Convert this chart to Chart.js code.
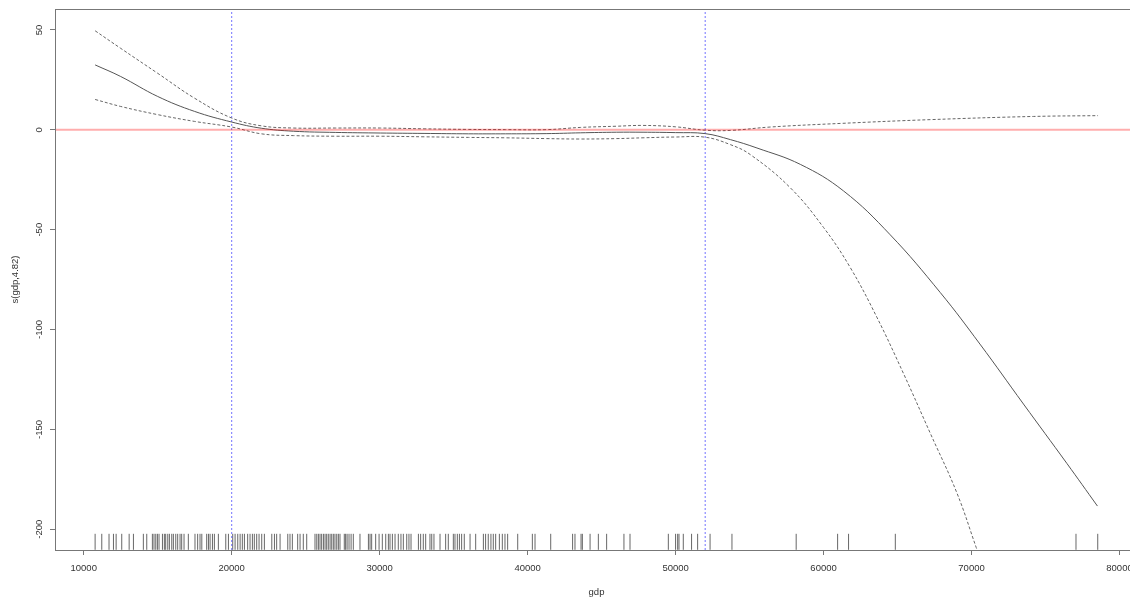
<!DOCTYPE html>
<html>
<head>
<meta charset="utf-8">
<script src="https://cdn.jsdelivr.net/npm/chart.js@4/dist/chart.umd.min.js"></script>
<style>
  html, body { margin: 0; padding: 0; background: #fff; overflow: hidden; }
  #wrap { width: 1150px; height: 599px; }
</style>
</head>
<body>
<div id="wrap"><canvas id="c" width="1150" height="599"></canvas></div>
<script>
// ---- data ----
const X_TICKS = [10000, 20000, 30000, 40000, 50000, 60000, 70000, 80000];
const Y_TICKS = [-200, -150, -100, -50, 0, 50];
const X_MIN = 8059, X_MAX = 81251;
const Y_MIN = -210.4, Y_MAX = 60.5;

const MAIN_GDP = [10770, 12500, 15000, 17500, 20000, 22000, 24170, 27000, 30050, 33000, 36000, 38500, 41300, 43560, 46000, 47800, 50000, 52000, 53700, 55500, 58430, 61350, 64510, 67890, 70570, 73510, 76440, 78510];
const MAIN_VAL = [32.5, 26.7, 16.7, 9.2, 3.9, 0.8, -0.7, -1.3, -1.6, -1.8, -2.0, -2.0, -1.9, -1.5, -1.2, -1.2, -1.4, -1.9, -4.9, -9.1, -17.3, -30.6, -52.6, -81.5, -107.3, -137.3, -167.0, -188.4];

const UPPER_GDP = [10770, 12500, 15000, 17500, 20000, 22000, 24170, 27000, 30050, 33000, 36000, 38500, 41300, 43560, 46000, 47800, 50000, 52000, 53700, 56400, 61130, 67210, 74200, 78550];
const UPPER_VAL = [49.6, 40.8, 28.3, 15.8, 5.9, 2.0, 0.9, 0.9, 0.9, 0.5, 0.2, 0.1, 0.1, 1.2, 1.8, 2.2, 1.5, -0.2, -0.3, 1.4, 3.2, 5.1, 6.7, 7.1];

const LOWER_GDP = [10770, 12500, 15000, 17500, 20000, 22000, 24170, 27000, 30050, 33000, 36000, 38500, 41300, 43560, 46000, 47800, 50000, 52000, 53700, 55050, 57750, 60000, 61800, 63600, 65400, 67210, 69010, 70320, 70600];
const LOWER_VAL = [15.2, 11.7, 7.6, 4.2, 1.4, -2.0, -2.9, -3.2, -3.2, -3.5, -3.8, -4.0, -4.4, -4.6, -4.4, -4.0, -3.6, -3.7, -7.4, -12.4, -29, -48.9, -68.9, -93.8, -122, -151.9, -181.8, -209.2, -215];

const V_LINES = [20000, 52000];
const H_LINE = 0;
const RUG_Y = -206.3;

const RUG_GDP = [10770, 11220, 11710, 12010, 12190, 12570, 13070, 13360, 14030, 14260, 14640, 14750, 14870, 14980, 15090, 15320, 15450, 15540, 15680, 15790, 15950, 16060, 16220, 16350, 16510, 16620, 16780, 17070, 17520, 17700, 17860, 17980, 18310, 18430, 18540, 18700, 18830, 19100, 19600, 19780, 20070, 20230, 20410, 20570, 20720,
  20860, 21080, 21240, 21400, 21530, 21690, 21850, 22030, 22210, 22710, 22890, 23040, 23270, 23790, 23940, 24100, 24460, 24620, 24840, 25070, 25630, 25750, 25860, 25970, 26080, 26200, 26310, 26420, 26530, 26650, 26760, 26870, 26980, 27100, 27210, 27320, 27610, 27700, 27800, 27930, 28070, 28220, 28670, 29240, 29350, 29460, 29730, 29960, 30180, 30410, 30590,
  30700, 30860, 31040, 31260, 31440, 31600, 31830, 31980, 32120, 32620, 32770, 32950, 33110, 33400, 33520, 33670, 34080, 34460, 34640, 34980, 35090, 35250, 35390, 35540, 35720, 36110, 36490, 37010, 37160, 37340, 37520, 37680, 37840, 38090, 38290, 38470, 38650, 39330, 40320, 40500,
  41560, 43040, 43200, 43610, 43700, 44220, 44780, 45340, 46510, 46920, 49510, 50000, 50140, 50230, 50520, 51080, 51490, 52330, 53810, 58150, 60950, 61690, 64850, 77060, 78530];

// ---- helpers ----
const pts = (xs, ys) => xs.map((x, i) => ({ x: x, y: ys[i] }));
const FONT = '"Liberation Sans", Arial, sans-serif';

const datasets = [
  { label: 'h0', data: [{ x: X_MIN, y: H_LINE }, { x: X_MAX, y: H_LINE }], showLine: true, borderColor: 'rgba(255,0,0,0.32)', borderWidth: 2, pointRadius: 0, order: 1 },
  { label: 'fit', data: pts(MAIN_GDP, MAIN_VAL), showLine: true, borderColor: '#555', borderWidth: 1, pointRadius: 0, tension: 0.4, order: 2 },
  { label: 'upper', data: pts(UPPER_GDP, UPPER_VAL), showLine: true, borderColor: '#666', borderWidth: 1, borderDash: [3, 2], pointRadius: 0, tension: 0.4, order: 3 },
  { label: 'lower', data: pts(LOWER_GDP, LOWER_VAL), showLine: true, borderColor: '#666', borderWidth: 1, borderDash: [3, 2], pointRadius: 0, tension: 0.4, order: 3 },
  { label: 'rug', data: RUG_GDP.map(g => ({ x: g, y: RUG_Y })), showLine: false, pointStyle: 'line', rotation: 90, pointRadius: 8, pointBorderWidth: 1, pointBorderColor: 'rgba(0,0,0,0.6)', pointBackgroundColor: 'rgba(0,0,0,0)', order: 5 }
];
V_LINES.forEach(v => datasets.push({ label: 'v' + v, data: [{ x: v, y: Y_MIN }, { x: v, y: Y_MAX }], showLine: true, borderColor: 'rgba(70,70,255,0.75)', borderWidth: 1, borderDash: [2, 2], pointRadius: 0, order: 4 }));

const rFrame = {
  id: 'rFrame',
  afterDraw(chart) {
    const { ctx, chartArea: a, scales: { y } } = chart;
    ctx.save();
    ctx.strokeStyle = '#777';
    ctx.lineWidth = 1;
    ctx.strokeRect(Math.round(a.left) + 0.5, Math.round(a.top) + 0.5, a.right - a.left, a.bottom - a.top);
    ctx.fillStyle = '#333';
    ctx.font = '9.5px ' + FONT;
    ctx.textAlign = 'center';
    ctx.textBaseline = 'middle';
    y.ticks.forEach(t => {
      const py = y.getPixelForValue(t.value);
      ctx.save();
      ctx.translate(a.left - 16, py);
      ctx.rotate(-Math.PI / 2);
      ctx.fillText(String(t.value), 0, 0);
      ctx.restore();
    });
    ctx.restore();
  }
};

new Chart(document.getElementById('c'), {
  type: 'scatter',
  data: { datasets: datasets },
  plugins: [rFrame],
  options: {
    responsive: false,
    animation: false,
    devicePixelRatio: 1,
    events: [],
    layout: { padding: { top: 7, right: 12, left: 0, bottom: 0 } },
    plugins: { legend: { display: false }, tooltip: { enabled: false } },
    scales: {
      x: {
        type: 'linear', position: 'bottom', min: X_MIN, max: X_MAX,
        afterFit: s => { s.height = 49; },
        afterBuildTicks: s => { s.ticks = X_TICKS.map(v => ({ value: v })); },
        ticks: { includeBounds: false, autoSkip: false, maxRotation: 0, color: '#333', padding: 8, font: { family: FONT, size: 9.5 }, callback: v => String(v) },
        grid: { drawOnChartArea: false, drawTicks: true, tickLength: 5, color: '#777' },
        border: { display: false },
        title: { display: true, text: 'gdp', color: '#333', font: { family: FONT, size: 9.5 }, padding: { top: 0, bottom: 1 } }
      },
      y: {
        type: 'linear', position: 'left', min: Y_MIN, max: Y_MAX,
        afterFit: s => { s.width = 55; },
        afterBuildTicks: s => { s.ticks = Y_TICKS.map(v => ({ value: v })); },
        ticks: { includeBounds: false, color: 'rgba(0,0,0,0)', font: { family: FONT, size: 9.5 } },
        grid: { drawOnChartArea: false, drawTicks: true, tickLength: 5, color: '#777' },
        border: { display: false },
        title: { display: true, text: 's(gdp,4.82)', color: '#333', font: { family: FONT, size: 9.5 }, padding: { top: 10, bottom: 0 } }
      }
    }
  }
});
</script>
</body>
</html>
